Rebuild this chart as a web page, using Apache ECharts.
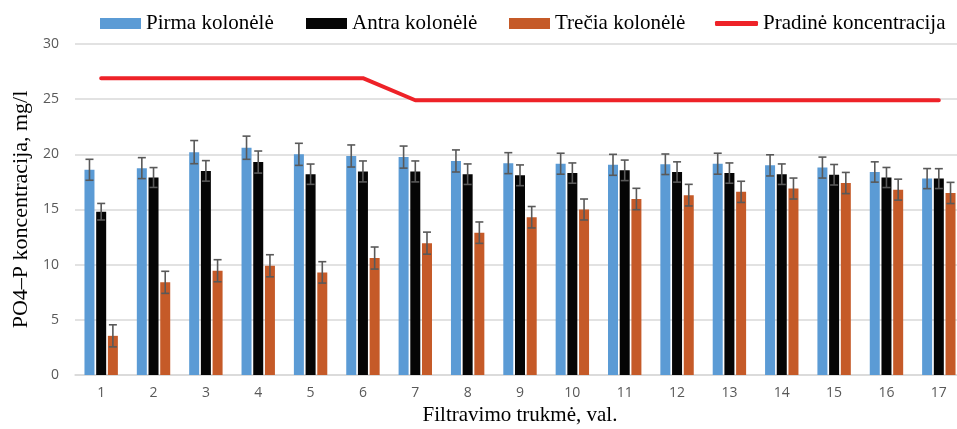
<!DOCTYPE html>
<html>
<head>
<meta charset="utf-8">
<script src="https://cdn.jsdelivr.net/npm/echarts@6/dist/echarts.min.js"></script>
<style>html,body{margin:0;padding:0;background:#fff}#c{width:957px;height:429px}</style>
</head>
<body>
<div id="c"></div>
<script>
const categories = ['1','2','3','4','5','6','7','8','9','10','11','12','13','14','15','16','17'];
const pirma = [18.6,18.75,20.2,20.6,20.0,19.85,19.75,19.4,19.2,19.15,19.05,19.1,19.15,19.0,18.8,18.4,17.8];
const antra = [14.8,17.9,18.5,19.3,18.2,18.45,18.45,18.2,18.1,18.3,18.55,18.4,18.3,18.2,18.15,17.9,17.8];
const trecia = [3.55,8.4,9.45,9.9,9.3,10.6,11.95,12.9,14.3,15.0,15.95,16.3,16.6,16.9,17.4,16.8,16.5];
const pirmaErr = [0.95,0.95,1.05,1.05,1.0,1.0,1.0,1.0,0.95,0.95,0.95,0.93,0.95,0.96,0.95,0.92,0.91];
const antraErr = [0.75,0.9,0.93,1.0,0.92,0.95,0.95,0.93,0.94,0.92,0.93,0.92,0.92,0.93,0.93,0.91,0.9];
const treciaErr = [1.0,1.0,1.0,1.0,0.97,1.0,1.0,0.97,0.97,0.95,0.97,0.98,0.96,0.95,0.96,0.95,0.96];
const pradine = [26.9,26.9,26.9,26.9,26.9,26.9,24.9,24.9,24.9,24.9,24.9,24.9,24.9,24.9,24.9,24.9,24.9];
const yTicks = {min:0, max:30, interval:5};

const BAR_W = 10, GAP = 0.17;
const SERIF = '"Liberation Serif", "DejaVu Serif", serif';

function errSeries(vals, errs, idx) {
  return {
    type: 'custom',
    z: 5,
    silent: true,
    data: vals.map((v, i) => [i, v, errs[i]]),
    renderItem: function (params, api) {
      const x = api.value(0), v = api.value(1), e = api.value(2);
      const off = (idx - 1) * BAR_W * (1 + GAP);
      const t = api.coord([x, v + e]);
      const b = api.coord([x, v - e]);
      const cx = t[0] + off;
      const hw = 4;
      const st = {stroke: '#595959', lineWidth: 1.6};
      return {
        type: 'group',
        children: [
          {type: 'line', shape: {x1: cx, y1: t[1], x2: cx, y2: b[1]}, style: st},
          {type: 'line', shape: {x1: cx - hw, y1: t[1], x2: cx + hw, y2: t[1]}, style: st},
          {type: 'line', shape: {x1: cx - hw, y1: b[1], x2: cx + hw, y2: b[1]}, style: st}
        ]
      };
    }
  };
}

const legendBase = {
  top: 13, itemHeight: 11, itemWidth: 41, itemGap: 0, padding: 0,
  textStyle: {fontFamily: SERIF, fontSize: 21, color: '#000'}
};

const chart = echarts.init(document.getElementById('c'));
chart.setOption({
  animation: false,
  legend: [
    Object.assign({}, legendBase, {left: 100, data: [{name: 'Pirma kolonėlė', icon: 'rect'}]}),
    Object.assign({}, legendBase, {left: 306, data: [{name: 'Antra kolonėlė', icon: 'rect'}]}),
    Object.assign({}, legendBase, {left: 509, data: [{name: 'Trečia kolonėlė', icon: 'rect'}]}),
    Object.assign({}, legendBase, {left: 715, itemWidth: 43, itemHeight: 5, data: [{name: 'Pradinė koncentracija', icon: 'roundRect'}]})
  ],
  grid: {left: 75, top: 44, width: 890, height: 331, containLabel: false, outerBoundsMode: 'none'},
  xAxis: {
    type: 'category',
    data: categories,
    name: 'Filtravimo trukmė, val.',
    nameLocation: 'middle',
    nameGap: 25,
    nameTextStyle: {fontFamily: SERIF, fontSize: 21, color: '#000'},
    axisLine: {lineStyle: {color: '#d9d9d9', width: 1.5}},
    axisTick: {show: false},
    axisLabel: {color: '#595959', fontSize: 14, fontFamily: '"Open Sans", sans-serif', margin: 11}
  },
  yAxis: {
    type: 'value',
    min: yTicks.min, max: yTicks.max, interval: yTicks.interval,
    name: 'PO4–P koncentracija, mg/l',
    nameLocation: 'middle',
    nameGap: 42,
    nameTextStyle: {fontFamily: SERIF, fontSize: 22, color: '#000'},
    axisLine: {show: false},
    axisTick: {show: false},
    splitLine: {lineStyle: {color: '#d9d9d9', width: 1.5}},
    axisLabel: {color: '#595959', fontSize: 14, fontFamily: '"Open Sans", sans-serif', margin: 16}
  },
  series: [
    {name: 'Pirma kolonėlė', type: 'bar', data: pirma, barWidth: BAR_W, barGap: (GAP*100)+'%', itemStyle: {color: '#5b9bd5'}},
    {name: 'Antra kolonėlė', type: 'bar', data: antra, barWidth: BAR_W, barGap: (GAP*100)+'%', itemStyle: {color: '#050505'}},
    {name: 'Trečia kolonėlė', type: 'bar', data: trecia, barWidth: BAR_W, barGap: (GAP*100)+'%', itemStyle: {color: '#c55a28'}},
    {name: 'Pradinė koncentracija', type: 'line', data: pradine, symbol: 'none', z: 6,
     lineStyle: {color: '#ee2228', width: 4, cap: 'round', join: 'round'}, itemStyle: {color: '#ee2228'}},
    errSeries(pirma, pirmaErr, 0),
    errSeries(antra, antraErr, 1),
    errSeries(trecia, treciaErr, 2)
  ]
});
</script>
</body>
</html>
